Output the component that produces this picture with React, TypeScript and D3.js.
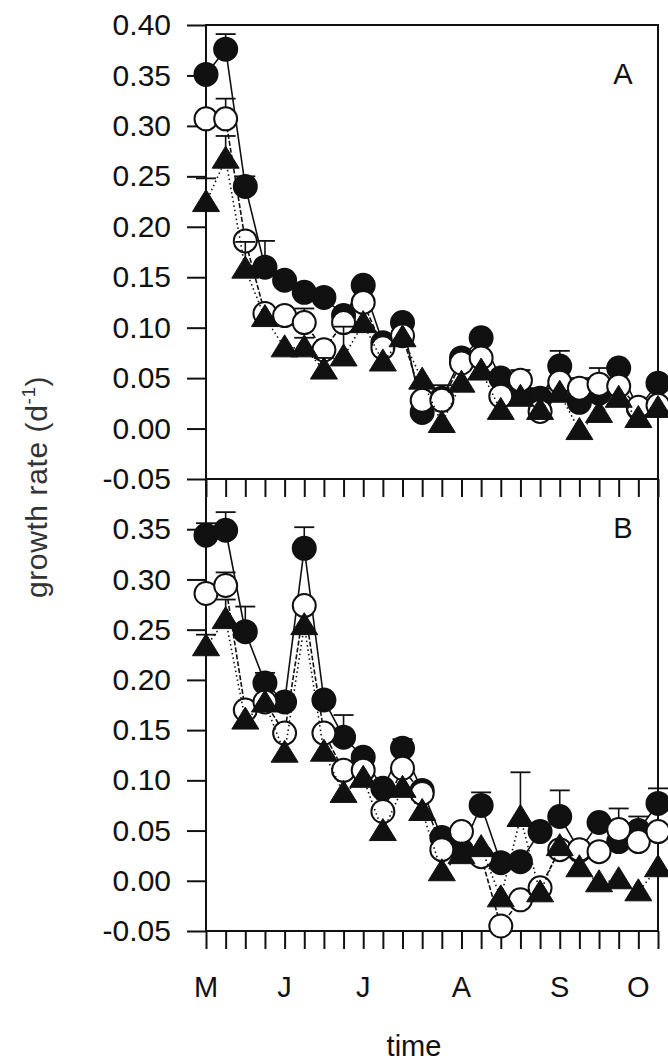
import React, { useEffect, useRef } from 'react';
import * as d3 from 'd3';

// sampling dates, one per tick (weekly-ish), May to October
const sampleIdx = [0, 1, 2, 3, 4, 5, 6, 7, 8, 9, 10, 11, 12, 13, 14, 15, 16, 17, 18, 19, 20, 21, 22, 23];
const monthLabels = ['M', 'J', 'J', 'A', 'S', 'O'];
const monthAt = [0, 4, 8, 13, 18, 22];

const yTicksA = [0.4, 0.35, 0.3, 0.25, 0.2, 0.15, 0.1, 0.05, 0.0, -0.05];
const yTicksB = [0.35, 0.3, 0.25, 0.2, 0.15, 0.1, 0.05, 0.0, -0.05];

// panel A
const filledA = [0.351, 0.376, 0.24, 0.16, 0.147, 0.135, 0.13, 0.112, 0.142, 0.085, 0.105, 0.016, 0.03, 0.07, 0.09, 0.05, 0.035, 0.03, 0.062, 0.026, 0.035, 0.06, 0.02, 0.045];
const openA = [0.307, 0.307, 0.186, 0.114, 0.112, 0.105, 0.078, 0.105, 0.125, 0.08, 0.092, 0.028, 0.028, 0.065, 0.07, 0.032, 0.048, 0.017, 0.046, 0.04, 0.044, 0.042, 0.021, 0.023];
const triA = [0.224, 0.267, 0.158, 0.11, 0.08, 0.08, 0.058, 0.071, 0.104, 0.066, 0.09, 0.048, 0.005, 0.045, 0.057, 0.018, 0.031, 0.018, 0.035, -0.002, 0.015, 0.03, 0.01, 0.02];
const filledErrA = [0, 0.015, 0.01, 0.026, 0, 0, 0, 0, 0, 0, 0, 0, 0, 0, 0, 0, 0, 0.01, 0.015, 0, 0, 0, 0, 0];
const openErrA = [0, 0.02, 0, 0, 0, 0.014, 0, 0, 0, 0, 0, 0, 0.015, 0, 0, 0, 0.01, 0, 0, 0.01, 0.016, 0, 0, 0];
const triErrA = [0.024, 0.023, 0.027, 0, 0, 0.01, 0.012, 0.03, 0, 0, 0, 0, 0, 0, 0, 0, 0, 0, 0, 0, 0, 0, 0, 0];

// panel B
const filledB = [0.344, 0.349, 0.248, 0.197, 0.178, 0.331, 0.18, 0.143, 0.123, 0.092, 0.132, 0.09, 0.043, 0.03, 0.075, 0.018, 0.019, 0.049, 0.064, 0.03, 0.058, 0.039, 0.05, 0.077];
const openB = [0.286, 0.294, 0.17, 0.178, 0.147, 0.274, 0.147, 0.11, 0.11, 0.069, 0.112, 0.087, 0.031, 0.049, 0.024, -0.045, -0.019, -0.007, 0.031, 0.031, 0.029, 0.051, 0.039, 0.049];
const triB = [0.233, 0.26, 0.16, 0.177, 0.127, 0.254, 0.128, 0.087, 0.102, 0.049, 0.092, 0.069, 0.009, 0.026, 0.033, -0.017, 0.063, -0.012, 0.034, 0.013, -0.002, 0.001, -0.011, 0.013];
const filledErrB = [0.012, 0.018, 0.025, 0.01, 0, 0.021, 0, 0.022, 0, 0, 0.009, 0, 0, 0, 0.013, 0, 0, 0, 0.026, 0, 0, 0, 0, 0.015];
const openErrB = [0, 0.013, 0, 0, 0, 0, 0, 0, 0, 0, 0, 0, 0, 0, 0, 0, 0, 0, 0, 0, 0, 0.021, 0.025, 0];
const triErrB = [0.012, 0.02, 0, 0, 0, 0, 0, 0, 0, 0, 0, 0, 0, 0, 0, 0, 0.045, 0, 0, 0, 0, 0, 0, 0];

const W = 668;
const H = 1061;
const font = 'Arial, "Liberation Sans", Helvetica, sans-serif';
const ink = '#111';

const App = () => {
  const svgRef = useRef<SVGSVGElement>(null);

  useEffect(() => {
    const svg = d3.select(svgRef.current);
    svg.selectAll('*').remove();

    const left = 206, right = 658;
    const x = d3.scaleLinear().domain([0, 23]).range([left, right]);

    const panels = [
      { name: 'A', top: 25, bottom: 479, ticks: yTicksA, series: [[filledA, filledErrA], [openA, openErrA], [triA, triErrA]] },
      { name: 'B', top: 479, bottom: 931, ticks: yTicksB, series: [[filledB, filledErrB], [openB, openErrB], [triB, triErrB]] },
    ];

    const styles = [
      { kind: 'circle', fill: ink, dash: null },
      { kind: 'circle', fill: '#fff', dash: '5,2' },
      { kind: 'tri', fill: ink, dash: '1.5,3' },
    ];

    panels.forEach(p => {
      const y = d3.scaleLinear().domain([-0.05, 0.4]).range([p.bottom, p.top]);
      const g = svg.append('g');

      // y axis
      const ya = g.append('g')
        .attr('transform', `translate(${left},0)`)
        .call(d3.axisLeft(y).tickValues(p.ticks).tickSize(19).tickPadding(16).tickFormat(d => (+d).toFixed(2)));
      ya.select('.domain').remove();
      ya.selectAll('line').attr('stroke', ink).attr('stroke-width', 2);
      ya.selectAll('text').attr('font-family', font).attr('font-size', 30).attr('fill', ink);

      // x axis (ticks only)
      const xa = g.append('g')
        .attr('transform', `translate(0,${p.bottom})`)
        .call(d3.axisBottom(x).tickValues(sampleIdx).tickSize(18).tickFormat(() => ''));
      xa.select('.domain').remove();
      xa.selectAll('line').attr('stroke', ink).attr('stroke-width', 2);

      // frame
      g.append('rect')
        .attr('x', left).attr('y', p.top)
        .attr('width', right - left).attr('height', p.bottom - p.top)
        .attr('fill', 'none').attr('stroke', ink).attr('stroke-width', 2);

      p.series.forEach(([vals, errs], si) => {
        const st = styles[si];
        const line = d3.line<number>().x((_, i) => x(sampleIdx[i])).y(d => y(d));
        const sg = g.append('g');
        sg.append('path')
          .attr('d', line(vals))
          .attr('fill', 'none')
          .attr('stroke', ink)
          .attr('stroke-width', 1.6)
          .attr('stroke-dasharray', st.dash);

        // error bars
        vals.forEach((v, i) => {
          const e = errs[i];
          if (!e) return;
          const cx = x(sampleIdx[i]);
          sg.append('line').attr('x1', cx).attr('x2', cx).attr('y1', y(v)).attr('y2', y(v + e))
            .attr('stroke', ink).attr('stroke-width', 1.6);
          sg.append('line').attr('x1', cx - 10).attr('x2', cx + 10).attr('y1', y(v + e)).attr('y2', y(v + e))
            .attr('stroke', ink).attr('stroke-width', 1.8);
        });

        // markers
        vals.forEach((v, i) => {
          const cx = x(sampleIdx[i]);
          const cy = y(v);
          if (st.kind === 'circle') {
            sg.append('circle').attr('cx', cx).attr('cy', cy).attr('r', 11.5)
              .attr('fill', st.fill).attr('stroke', ink).attr('stroke-width', 2);
          } else {
            sg.append('path')
              .attr('d', `M${cx},${cy - 13}L${cx + 13.5},${cy + 9}L${cx - 13.5},${cy + 9}Z`)
              .attr('fill', st.fill).attr('stroke', ink).attr('stroke-width', 1);
          }
        });
      });

      g.append('text')
        .attr('x', 623).attr('y', p.top + 59)
        .attr('text-anchor', 'middle')
        .attr('font-family', font).attr('font-size', 29).attr('fill', ink)
        .text(p.name);
    });

    // month labels
    svg.append('g').selectAll('text')
      .data(monthLabels)
      .enter().append('text')
      .attr('x', (_, i) => x(monthAt[i]))
      .attr('y', 997)
      .attr('text-anchor', 'middle')
      .attr('font-family', font).attr('font-size', 29).attr('fill', ink)
      .text(d => d);

    svg.append('text')
      .attr('x', 414).attr('y', 1056)
      .attr('text-anchor', 'middle')
      .attr('font-family', font).attr('font-size', 29).attr('fill', ink)
      .text('time');

    const yl = svg.append('text')
      .attr('transform', 'translate(47,598) rotate(-90)')
      .attr('text-anchor', 'start')
      .attr('letter-spacing', 0.6)
      .attr('font-family', font).attr('font-size', 30).attr('fill', '#333');
    yl.append('tspan').text('growth rate (d');
    yl.append('tspan').attr('font-size', 19).attr('dy', -12).text('-1');
    yl.append('tspan').attr('dy', 12).text(')');
  }, []);

  return (
    <svg ref={svgRef} width={W} height={H}
      style={{ position: 'absolute', left: 0, top: 0, background: '#fff' }} />
  );
};

export default App;
